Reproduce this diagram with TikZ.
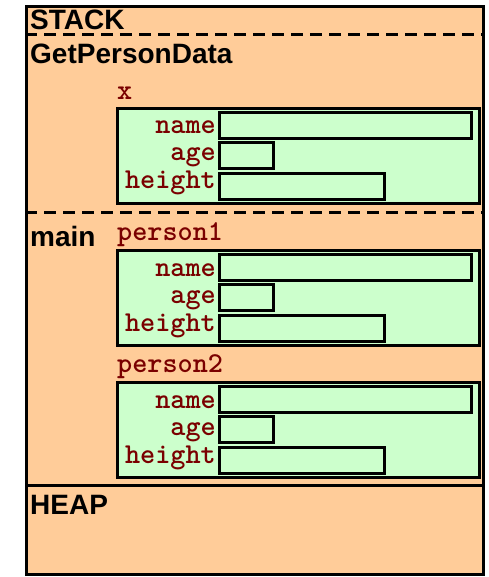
\documentclass[tikz,border=0pt]{standalone}
\usepackage{fontspec}
\newfontfamily\memsans{Liberation Sans}
\definecolor{peach}{HTML}{FFCC99}
\definecolor{mint}{HTML}{CCFFCC}
\definecolor{maroonred}{HTML}{7A0000}
\tikzset{
  outerbox/.style={draw=black, fill=peach, line width=3pt},
  divider/.style={draw=black, line width=3pt, dash pattern=on 12pt off 7pt},
  solidline/.style={draw=black, line width=3pt},
  greenbox/.style={draw=black, fill=mint, line width=3pt, anchor=north west, inner sep=0pt, minimum height=95pt},
  fieldbox/.style={draw=black, fill=mint, line width=3pt, anchor=north west, inner sep=0pt, minimum height=26pt},
  seclabel/.style={inner sep=0pt, anchor=base west, font=\memsans\bfseries\fontsize{28}{30}\selectfont},
  varlabel/.style={inner sep=0pt, anchor=base west, text=maroonred, font=\ttfamily\bfseries\fontsize{28.8}{30}\selectfont},
  fieldlabel/.style={inner sep=0pt, anchor=base east, text=maroonred, font=\ttfamily\bfseries\fontsize{28.8}{30}\selectfont},
}
\newcommand{\mystruct}[2]{%
  \node[greenbox, minimum width=362pt] (#1) at (116,#2) {};
  \node[fieldbox, minimum width=252pt] (#1-name) at (218,#2+4) {};
  \node[fieldbox, minimum width=54pt] (#1-age) at (218,#2+34) {};
  \node[fieldbox, minimum width=165pt] (#1-height) at (218,#2+65) {};
  \node[fieldlabel] (#1-namelbl) at (216,#2+27) {name};
  \node[fieldlabel] (#1-agelbl) at (216,#2+54) {age};
  \node[fieldlabel] (#1-heightlbl) at (216,#2+82) {height};
}
\begin{document}
\begin{tikzpicture}[x=1pt,y=-1pt]
\useasboundingbox (0,0) rectangle (488,577);
\node[outerbox, anchor=north west, inner sep=0pt, minimum width=457pt, minimum height=568pt] (mem) at (25,5) {};
\coordinate (d1l) at (25,35); \coordinate (d1r) at (482,35);
\coordinate (d2l) at (25,212); \coordinate (d2r) at (482,212);
\coordinate (hl) at (25,485); \coordinate (hr) at (482,485);
\draw[divider] (d1l) -- (d1r);
\draw[divider] (d2l) -- (d2r);
\draw[solidline] (hl) -- (hr);
\node[seclabel] (stack) at (30,30) {STACK};
\node[seclabel] (gpd) at (30,64) {GetPersonData};
\node[seclabel] (mainlbl) at (30,246) {main};
\node[seclabel] (heap) at (30,514) {HEAP};
\node[varlabel] (xlbl) at (117,100) {x};
\node[varlabel] (p1lbl) at (117,240) {person1};
\node[varlabel] (p2lbl) at (117,372) {person2};
\mystruct{xs}{107}
\mystruct{p1}{249}
\mystruct{p2}{381}
\end{tikzpicture}
\end{document}
